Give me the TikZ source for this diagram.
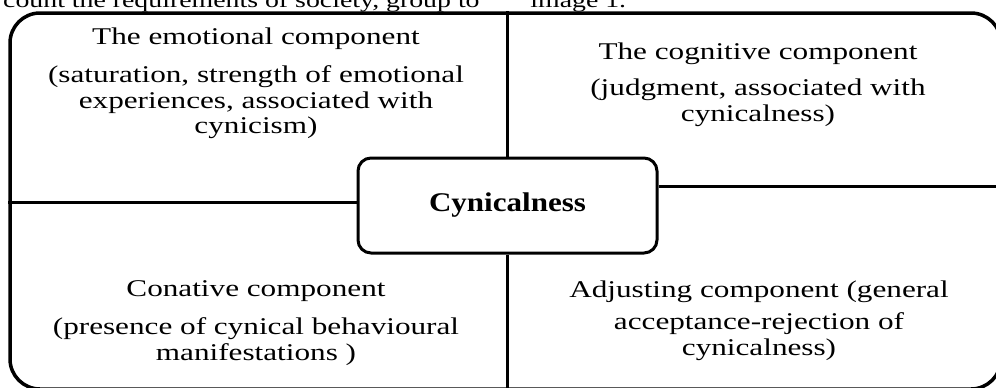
\documentclass[tikz,border=0pt]{standalone}
\usepackage{fontspec}
\setmainfont{Liberation Serif}[FakeStretch=1.3]
\newfontfamily\hubfont{Liberation Serif}[FakeStretch=1.15]

\tikzset{
  quadtext/.style={align=center,inner sep=0pt,anchor=north,font=\fontsize{12}{12.75}\selectfont},
  hubbox/.style={draw,line width=1.5pt,rounded corners=6.5pt,minimum width=149.5pt,minimum height=47.5pt,inner sep=0pt,font=\hubfont\fontsize{13.5}{15}\selectfont\bfseries},
  framebox/.style={draw,line width=1.75pt,rounded corners=15pt,minimum width=495.5pt,minimum height=188pt,inner sep=0pt},
  divider/.style={line width=1.5pt},
  pagetext/.style={inner sep=0pt,font=\fontsize{10.7}{12}\selectfont}
}

\begin{document}
\begin{tikzpicture}[x=0.5pt,y=-0.5pt]
  \useasboundingbox (0,0) rectangle (996,387);
  \clip (0,0) rectangle (996,387);
  \node[pagetext,anchor=base east] (prev) at (480,7) {count the requirements of society, group to};
  \node[pagetext,anchor=base west] (imgref) at (530,7) {image 1.};
  %
  \node[framebox] (frame) at (505.5,201) {};
  \node[hubbox] (hub) at (507.5,205.5) {Cynicalness};
  %
  \node[quadtext] (emo) at (256,27.5) {The emotional component\\[6.25pt](saturation, strength of emotional\\experiences, associated with\\cynicism)};
  \node[quadtext] (cog) at (758,42.5) {The cognitive component\\[5.25pt](judgment, associated with\\cynicalness)};
  \node[quadtext] (con) at (256,280.5) {Conative component\\[6.25pt](presence of cynical behavioural\\manifestations )};
  \node[quadtext] (adj) at (759,280.5) {Adjusting component (general\\[3.25pt]acceptance-rejection of\\cynicalness)};
  %
  \path[divider]
    (hub.north) edge (hub.north |- frame.north)
    (hub.south) edge (hub.south |- frame.south)
    ([yshift=1.75pt]hub.west) edge ([yshift=1.75pt]hub.west -| frame.west)
    ([yshift=9.75pt]hub.east) edge ([yshift=9.75pt]hub.east -| frame.east);
\end{tikzpicture}
\end{document}
